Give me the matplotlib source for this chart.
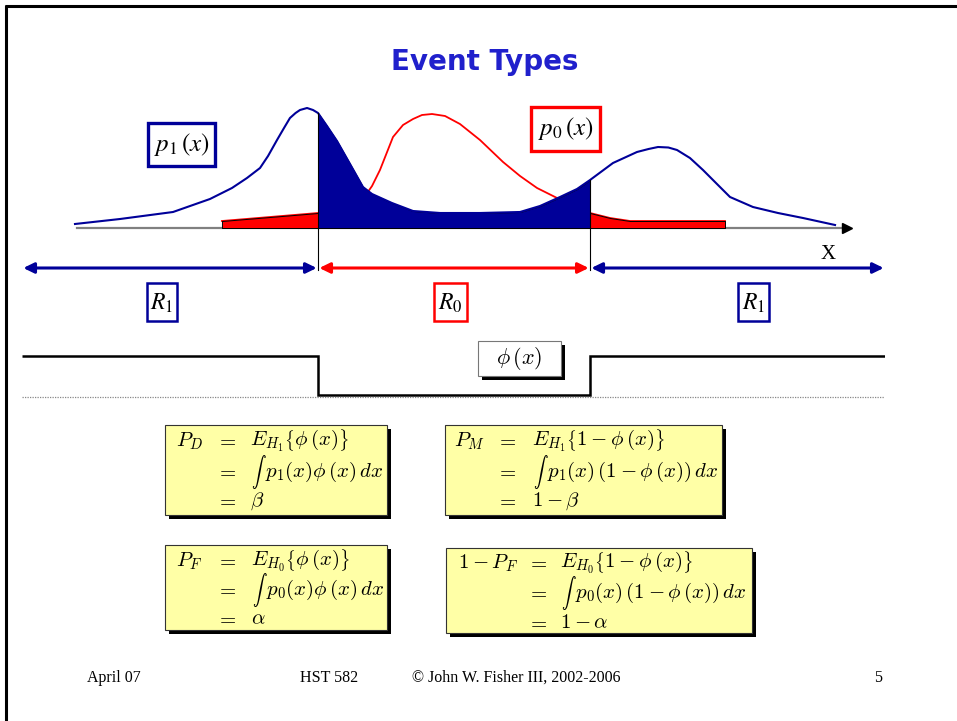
import matplotlib
matplotlib.use("Agg")
import numpy as np
import matplotlib.pyplot as plt
from matplotlib.patches import Rectangle

W, H = 957, 721

# Sampled densities along the feature axis (x from 0 to 100)
p1_x = [6.14, 11.36, 17.50, 21.78, 24.33, 26.07, 27.58, 28.51, 29.55, 30.36,
        31.05, 31.70, 32.21, 33.03, 33.72, 34.30, 35.34, 36.50, 38.01, 39.51, 40.56,
        42.87, 45.31, 48.44, 53.07, 57.71, 60.02, 62.34, 64.31, 65.82, 68.48,
        71.26, 72.60, 73.70, 74.90, 75.90, 77.40, 78.91, 80.53, 82.04, 84.70, 87.60, 90.50,
        94.21]
p1_y = [0.04, 0.09, 0.16, 0.29, 0.40, 0.50, 0.60, 0.72, 0.88, 1.00,
        1.10, 1.15, 1.18, 1.20, 1.18, 1.15, 1.02, 0.87, 0.64, 0.41, 0.34,
        0.25, 0.17, 0.15, 0.15, 0.16, 0.22, 0.31, 0.39, 0.48, 0.65,
        0.76, 0.79, 0.81, 0.805, 0.78, 0.70, 0.58, 0.44, 0.31, 0.21, 0.15, 0.10,
        0.03]

p0_x = [23.17, 28.74, 34.30, 37.43, 39.75, 40.56, 41.48, 42.99, 44.15, 45.31,
        46.35, 47.51, 49.02, 50.75, 53.07, 55.74, 57.71, 59.68, 62.00, 64.08,
        65.82, 68.14, 70.45, 81.46]
p0_y = [0.07, 0.11, 0.15, 0.23, 0.32, 0.42, 0.58, 0.91, 1.03, 1.09,
        1.13, 1.14, 1.12, 1.04, 0.88, 0.66, 0.52, 0.40, 0.30, 0.21,
        0.15, 0.10, 0.07, 0.07]

# Decision thresholds splitting the axis into R1 | R0 | R1
thresholds = [34.30, 65.82]
phi_levels = [1, 0, 1]
region_names = ["$R_1$", "$R_0$", "$R_1$"]

title = "Event Types"
footer = ["April 07", "HST 582", "\u00a9 John W. Fisher III, 2002-2006", "5"]

# lhs, first line, integrand of second line, third line
pd_rows = [r"$P_D$", r"$E_{H_1}\left\{\phi\,(x)\right\}$",
           r"$p_1(x)\phi\,(x)\,dx$", r"$\beta$"]
pm_rows = [r"$P_M$", r"$E_{H_1}\left\{1-\phi\,(x)\right\}$",
           r"$p_1(x)\,(1-\phi\,(x))\,dx$", r"$1-\beta$"]
pf_rows = [r"$P_F$", r"$E_{H_0}\left\{\phi\,(x)\right\}$",
           r"$p_0(x)\phi\,(x)\,dx$", r"$\alpha$"]
pc_rows = [r"$1-P_F$", r"$E_{H_0}\left\{1-\phi\,(x)\right\}$",
           r"$p_0(x)\,(1-\phi\,(x))\,dx$", r"$1-\alpha$"]

NAVY = "#000099"
RED = "#FF0000"

plt.rcParams["mathtext.fontset"] = "stix"

fig = plt.figure(figsize=(W / 100, H / 100), dpi=100)
fig.patch.set_facecolor("white")

# Page-level axes in pixel units for the slide furniture
ax = fig.add_axes([0, 0, 1, 1])
ax.set_xlim(0, W)
ax.set_ylim(H, 0)
ax.axis("off")

# slide frame (top and left edges)
ax.plot([5, W], [6, 6], color="black", lw=2.2, solid_capstyle="butt")
ax.plot([6, 6], [5, H], color="black", lw=2.2, solid_capstyle="butt")

ax.text(485, 62, title, ha="center", va="center", fontsize=20,
        fontweight="bold", color="#2020CC", family="DejaVu Sans")

# ---- density panel ----
x0_px, x1_px = 22, 885
pdf_ax = fig.add_axes([x0_px / W, 1 - 273 / H, (x1_px - x0_px) / W, 173 / H])
pdf_ax.set_xlim(0, 100)
pdf_ax.set_ylim(-0.45, 1.28)
pdf_ax.axis("off")
pdf_ax.patch.set_alpha(0)

p1x = np.array(p1_x); p1y = np.array(p1_y)
p0x = np.array(p0_x); p0y = np.array(p0_y)
t0, t1 = thresholds

# feature axis with arrow head
pdf_ax.plot([6.4, 95.3], [0, 0], color="#808080", lw=1.6, zorder=1)
pdf_ax.plot([95.6], [0], marker=">", color="black", markersize=7, zorder=1,
            clip_on=False)

pdf_ax.plot(p0x, p0y, color=RED, lw=1.3, zorder=2, solid_joinstyle="round")
pdf_ax.fill_between(p0x, p0y, 0, where=p0x <= t0, facecolor=RED,
                    edgecolor="black", lw=0.7, zorder=3)
pdf_ax.fill_between(p0x, p0y, 0, where=p0x >= t1, facecolor=RED,
                    edgecolor="black", lw=0.7, zorder=3)
pdf_ax.fill_between(p1x, p1y, 0, where=(p1x >= t0) & (p1x <= t1),
                    facecolor=NAVY, edgecolor="black", lw=0.7, zorder=3)
pdf_ax.plot(p1x, p1y, color=NAVY, lw=1.5, zorder=4,
            solid_joinstyle="round")

# threshold markers
for t in thresholds:
    top = np.interp(t, p1x, p1y)
    pdf_ax.plot([t, t], [top, -0.42], color="black", lw=0.8, zorder=5,
                clip_on=False)

pdf_ax.text(93.4, -0.26, "X", ha="center", va="center", fontsize=15,
            family="Liberation Serif")

# region arrows
edges = [0, t0, t1, 100]
arrow_cols = [NAVY, RED, NAVY]
for i in range(3):
    pdf_ax.annotate("", xy=(edges[i + 1] - 0.15, -0.40),
                    xytext=(edges[i] + 0.15, -0.40),
                    arrowprops=dict(arrowstyle="<|-|>,head_length=0.45,head_width=0.22",
                                    mutation_scale=14, lw=2.2, color=arrow_cols[i],
                                    shrinkA=0, shrinkB=0),
                    annotation_clip=False)

# region labels
label_boxes = [(147, 283, 30, 38), (434, 283, 33, 38), (738, 283, 31, 38)]
for (bx, by, bw, bh), name, col in zip(label_boxes, region_names, arrow_cols):
    ax.add_patch(Rectangle((bx, by), bw, bh, facecolor="white", edgecolor=col, lw=1.8))
    ax.text(bx + bw / 2, by + bh / 2 + 1, name, ha="center", va="center",
            fontsize=17, color="black")

# density labels
ax.add_patch(Rectangle((148, 123), 67, 43, facecolor="white", edgecolor=NAVY, lw=2.4))
ax.text(181.5, 145, r"$p_1\,(x)$", ha="center", va="center", fontsize=18)
ax.add_patch(Rectangle((531, 107), 69, 44, facecolor="white", edgecolor=RED, lw=2.4))
ax.text(565.5, 129, r"$p_0\,(x)$", ha="center", va="center", fontsize=18)

# ---- decision function ----
phi_ax = fig.add_axes([x0_px / W, 1 - 400 / H, (x1_px - x0_px) / W, 50 / H])
phi_ax.set_xlim(0, 100)
phi_ax.set_ylim(-0.128, 1.154)
phi_ax.axis("off")
phi_ax.patch.set_alpha(0)
phi_ax.plot([0, 100], [-0.04, -0.04], color="#888888", lw=0.9, ls=(0, (1, 1)))
phi_ax.stairs(phi_levels, edges, baseline=None, color="black", lw=1.8)

ax.add_patch(Rectangle((482, 345), 83, 35, facecolor="black", edgecolor="none"))
ax.add_patch(Rectangle((478, 341), 83, 35, facecolor="white", edgecolor="#777777", lw=0.8))
ax.text(519.5, 359, r"$\phi\,(x)$", ha="center", va="center", fontsize=16,
        math_fontfamily="cm")

# ---- probability boxes ----
YELLOW = "#FFFFA6"
eq_boxes = [(165, 425, 222, 90), (445, 425, 277, 90), (165, 545, 222, 85), (446, 548, 306, 85)]
eq_rows = [pd_rows, pm_rows, pf_rows, pc_rows]
lhs_right = [203, 485, 202, 518]
eq_center = [226, 506, 226, 537]
rhs_left = [250, 532, 251, 560]
baselines = [(446, 477, 506), (446, 477, 506), (566, 595, 624), (568, 598, 628)]
EQ_FS = 15

for k in range(4):
    bx, by, bw, bh = eq_boxes[k]
    ax.add_patch(Rectangle((bx + 4, by + 4), bw, bh, facecolor="black", edgecolor="none"))
    ax.add_patch(Rectangle((bx, by), bw, bh, facecolor=YELLOW, edgecolor="#333333", lw=0.8))
    rows = eq_rows[k]
    ys = baselines[k]
    ax.text(lhs_right[k], ys[0], rows[0], ha="right", va="baseline", fontsize=EQ_FS,
            math_fontfamily="cm")
    for r in range(3):
        ax.text(eq_center[k], ys[r], "$=$", ha="center", va="baseline", fontsize=EQ_FS,
                math_fontfamily="cm")
    ax.text(rhs_left[k], ys[0], rows[1], ha="left", va="baseline", fontsize=EQ_FS,
            math_fontfamily="cm")
    # integral sign drawn on its own at text size
    ax.text(rhs_left[k] + 1, ys[1] - 5, r"$\int$", ha="left", va="center", fontsize=10.5,
            math_fontfamily="cm")
    ax.text(rhs_left[k] + 15, ys[1], rows[2], ha="left", va="baseline", fontsize=EQ_FS,
            math_fontfamily="cm")
    ax.text(rhs_left[k], ys[2], rows[3], ha="left", va="baseline", fontsize=EQ_FS,
            math_fontfamily="cm")

# ---- footer ----
ax.text(87, 678, footer[0], ha="left", va="center", fontsize=11.5, family="Liberation Serif")
ax.text(300, 678, footer[1], ha="left", va="center", fontsize=11.5, family="Liberation Serif")
ax.text(412, 678, footer[2], ha="left", va="center", fontsize=11.5, family="Liberation Serif")
ax.text(882, 678, footer[3], ha="right", va="center", fontsize=11.5, family="Liberation Serif")

fig.savefig("out.png", dpi=100, facecolor="white")
